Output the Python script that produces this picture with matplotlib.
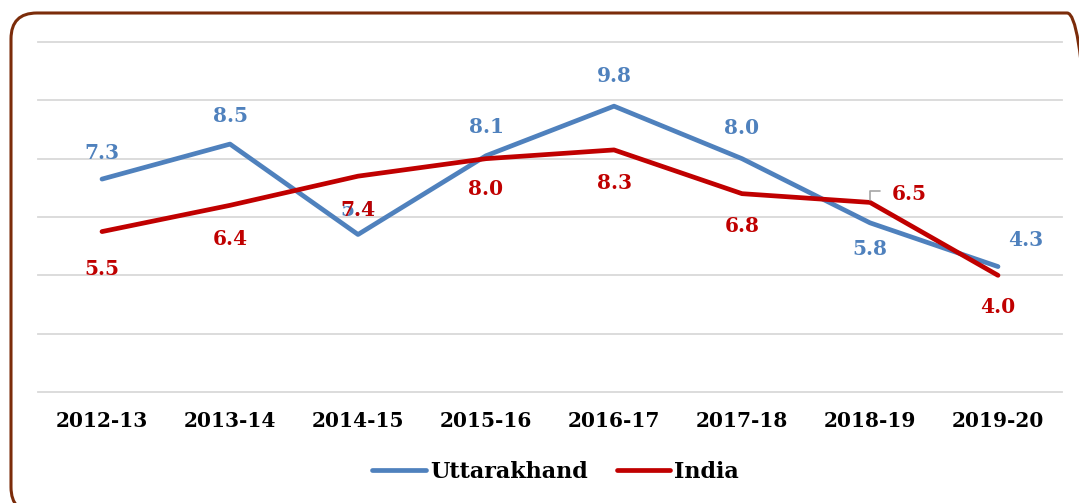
import numpy as np
import matplotlib
matplotlib.use("Agg")
from matplotlib import pyplot as plt
from matplotlib.patches import FancyBboxPatch

years = ["2012-13", "2013-14", "2014-15", "2015-16", "2016-17", "2017-18", "2018-19", "2019-20"]
uttarakhand = [7.3, 8.5, 5.4, 8.1, 9.8, 8.0, 5.8, 4.3]
india = [5.5, 6.4, 7.4, 8.0, 8.3, 6.8, 6.5, 4.0]
utk_labels = ["7.3", "8.5", "5.4", "8.1", "9.8", "8.0", "5.8", "4.3"]
ind_labels = ["5.5", "6.4", "7.4", "8.0", "8.3", "6.8", "6.5", "4.0"]

blue = "#4F81BD"
red = "#C00000"
font = "DejaVu Serif"

fig = plt.figure(figsize=(10.79, 5.03), dpi=100)
ax = fig.add_axes([38 / 1079, 1 - 392 / 503, 1024 / 1079, 350 / 503])

x = np.arange(len(years)) + 0.5
ax.plot(x, uttarakhand, color=blue, lw=3.4, label="Uttarakhand", solid_capstyle="round")
ax.plot(x, india, color=red, lw=3.4, label="India", solid_capstyle="round")

ax.set_xlim(0, len(years))
ax.set_ylim(0, 12)
ax.set_yticks([])
for g in np.arange(0, 13, 2):
    ax.axhline(g, color="#D9D9D9", lw=1.3, zorder=0, clip_on=False)
ax.tick_params(length=0)
for s in ax.spines.values():
    s.set_visible(False)
ax.set_xticks(x)
ax.set_xticklabels(years, fontsize=14.5, fontweight="bold", family=font)
ax.tick_params(axis="x", pad=14)

# data labels (offsets in points)
utk_off = [(0, 19), (0, 20), (0, 18), (0, 21), (0, 22), (0, 22), (0, -19), (20, 19)]
ind_off = [(0, -27), (0, -24), (0, -24), (0, -22), (0, -24), (0, -23), (28, 6), (0, -23)]
for xi, yv, t, o in zip(x, uttarakhand, utk_labels, utk_off):
    ax.annotate(t, (xi, yv), xytext=o, textcoords="offset points", ha="center", va="center",
                color=blue, fontsize=14.5, fontweight="bold", family=font)
for xi, yv, t, o in zip(x, india, ind_labels, ind_off):
    ax.annotate(t, (xi, yv), xytext=o, textcoords="offset points", ha="center", va="center",
                color=red, fontsize=14.5, fontweight="bold", family=font)
# leader line for 2018-19 India label
ax.annotate("", (x[6], india[6]), xytext=(x[6] + 0.1, india[6] + 0.4),
            arrowprops=dict(arrowstyle="-", color="#A6A6A6", lw=1.2,
                            connectionstyle="angle,angleA=0,angleB=90,rad=0"))

leg = fig.legend(loc="center", bbox_to_anchor=(0.515, 1 - 472 / 503), ncol=2, frameon=False,
                 prop={"family": font, "weight": "bold", "size": 16},
                 handlelength=2.4, columnspacing=1.3, handletextpad=0.2)

border = FancyBboxPatch((11 / 1079, -10 / 503), 1082 / 1079, 500 / 503,
                        boxstyle="round,pad=0,rounding_size=0.024", transform=fig.transFigure,
                        facecolor="none", edgecolor="#7B2C0A", lw=2.2, mutation_aspect=1079 / 503)
fig.patches.append(border)

fig.savefig("out.png", dpi=100)
